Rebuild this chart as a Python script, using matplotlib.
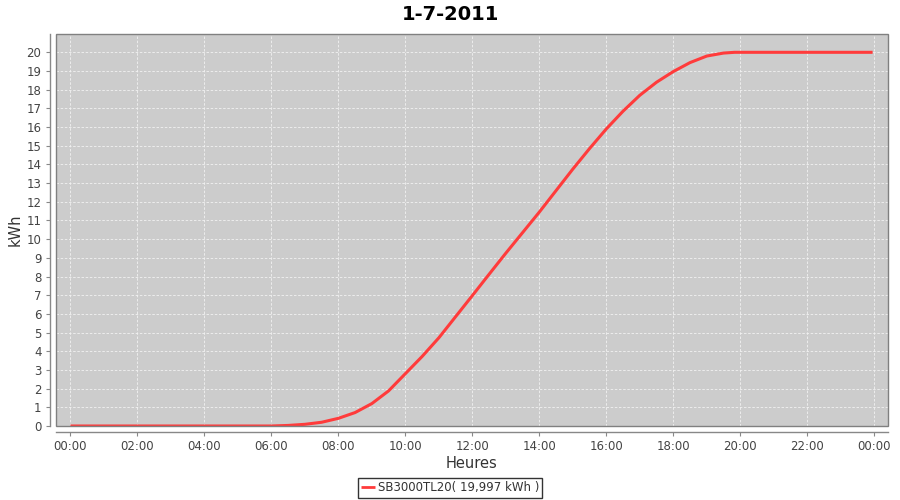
import matplotlib
matplotlib.use("Agg")
import matplotlib.pyplot as plt
from matplotlib.patches import Rectangle

# Data: time of day (hours) and cumulative energy (kWh)
hours = [0.0, 6.0, 6.5, 7.0, 7.5, 8.0, 8.5, 9.0, 9.5, 10.0, 10.5, 11.0, 11.5,
         12.0, 12.5, 13.0, 13.5, 14.0, 14.5, 15.0, 15.5, 16.0, 16.5, 17.0,
         17.5, 18.0, 18.5, 19.0, 19.5, 19.83, 23.95]
kwh = [0.0, 0.0, 0.03, 0.09, 0.2, 0.41, 0.72, 1.2, 1.88, 2.8, 3.72, 4.72, 5.85,
       6.98, 8.12, 9.25, 10.35, 11.45, 12.6, 13.75, 14.85, 15.9, 16.85, 17.7,
       18.4, 18.97, 19.45, 19.8, 19.96, 20.0, 20.0]
series_label = "SB3000TL20( 19,997 kWh )"
title = "1-7-2011"
xtick_hours = list(range(0, 25, 2))
xtick_labels = ["%02d:00" % (h % 24) for h in xtick_hours]
ytick_vals = list(range(0, 21))

fig = plt.figure(figsize=(9, 5), dpi=100)
ax = fig.add_axes([56/900, 1 - 426/500, (888-56)/900, (426-34)/500])
ax.set_facecolor("#cccccc")

ax.plot(hours, kwh, color="#ff3b3b", lw=2.2, solid_joinstyle="round",
        solid_capstyle="butt", zorder=3)

ax.set_xlim(-0.43, 24.41)
ax.set_ylim(0, 20.98)
ax.set_xticks(xtick_hours)
ax.set_xticklabels(xtick_labels)
ax.set_yticks(ytick_vals)

ax.grid(True, color="#f2f2f2", linestyle=(0, (3, 2)), linewidth=0.6)
ax.set_axisbelow(True)

for s in ["top", "right"]:
    ax.spines[s].set_visible(False)
for s in ["left", "bottom"]:
    ax.spines[s].set_position(("outward", 4))
    ax.spines[s].set_color("#888888")
    ax.spines[s].set_linewidth(1.0)

# plot outline
ax.add_patch(Rectangle((0, 0), 1, 1, transform=ax.transAxes, fill=False,
                       edgecolor="#808080", lw=1.0, zorder=5, clip_on=False))

ax.tick_params(axis="both", colors="#888888", labelcolor="#444444",
               labelsize=8.5, length=3, width=0.8)
ax.tick_params(axis="x", pad=3)

ax.set_xlabel("Heures", fontsize=10.5, color="#333333", labelpad=2)
ax.set_ylabel("kWh", fontsize=10.5, color="#333333", labelpad=3)

fig.text(0.5, 1 - 14/500, title, ha="center", va="center",
         fontsize=14, fontweight="bold", color="black")

leg = fig.legend([ax.lines[0]], [series_label], loc="center",
                 bbox_to_anchor=(450/900, 1 - 488/500), fontsize=8.5,
                 frameon=True, fancybox=False, handlelength=1.2,
                 handletextpad=0.2, borderpad=0.3, borderaxespad=0)
leg.get_frame().set_edgecolor("black")
leg.get_frame().set_linewidth(1.0)
for t in leg.get_texts():
    t.set_color("#333333")
for l in leg.get_lines():
    l.set_linewidth(2)

fig.savefig("out.png", dpi=100, facecolor="white")
